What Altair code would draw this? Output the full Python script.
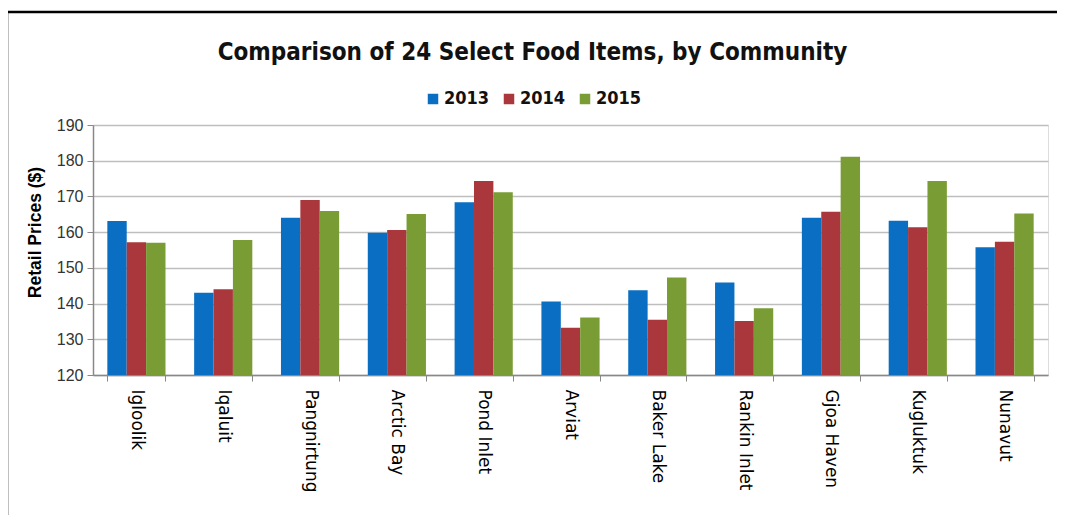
import altair as alt
import pandas as pd

communities = ["Igloolik", "Iqaluit", "Pangnirtung", "Arctic Bay", "Pond Inlet", "Arviat",
               "Baker Lake", "Rankin Inlet", "Gjoa Haven", "Kugluktuk", "Nunavut"]
years = ["2013", "2014", "2015"]
v2013 = [163.1, 143.0, 164.0, 159.8, 168.4, 140.6, 143.7, 145.9, 164.0, 163.2, 155.8]
v2014 = [157.2, 144.0, 169.0, 160.6, 174.3, 133.2, 135.5, 135.1, 165.7, 161.4, 157.3]
v2015 = [157.0, 157.8, 165.9, 165.1, 171.2, 136.1, 147.3, 138.7, 181.1, 174.3, 165.2]
y_ticks = [120, 130, 140, 150, 160, 170, 180, 190]
colors = ["#0A6FC2", "#A9373B", "#7A9C35"]

rows = []
for i, c in enumerate(communities):
    for y, vals in zip(years, [v2013, v2014, v2015]):
        rows.append({"Community": c, "Year": y, "Price": vals[i]})
df = pd.DataFrame(rows)

W, H = 955, 250
PL, PT = 85, 117
NARROW = "DejaVu Sans Condensed, Liberation Sans"

bars = alt.Chart(df).mark_bar(clip=True).encode(
    x=alt.X("Community:N", sort=communities, title=None,
            scale=alt.Scale(paddingInner=0.33, paddingOuter=0.165),
            axis=alt.Axis(labelAngle=90, labelAlign="left", labelBaseline="middle",
                          labelFont="DejaVu Sans", labelFontSize=17, labelColor="#000",
                          labelPadding=8, tickBand="extent", tickSize=6, tickColor="#888",
                          domainColor="#888", domainWidth=1.5, grid=False)),
    xOffset=alt.XOffset("Year:N", scale=alt.Scale(paddingInner=0, paddingOuter=0)),
    y=alt.Y("Price:Q", scale=alt.Scale(domain=[120, 190], nice=False, zero=False),
            title="Retail Prices ($)",
            axis=alt.Axis(values=y_ticks, labelFont="Liberation Sans", labelFontSize=16,
                          labelColor="#333", labelPadding=4, tickSize=6, tickColor="#888",
                          domainColor="#888", domainWidth=1.5, gridColor="#BEBEBE",
                          gridWidth=1.5, titleFont="Liberation Sans", titleFontSize=17.5,
                          titleFontWeight="bold", titleColor="#000", titlePadding=12,
                          titleY=107)),
    color=alt.Color("Year:N", scale=alt.Scale(domain=years, range=colors),
                    legend=alt.Legend(title=None, orient="none", direction="horizontal",
                                      legendX=331, legendY=-35, symbolType="square",
                                      symbolSize=110, symbolStrokeWidth=0,
                                      labelFont=NARROW, labelFontSize=18,
                                      labelFontWeight="bold", labelColor="#111",
                                      columnPadding=10, labelOffset=2)),
)

one = pd.DataFrame({"k": [0]})
frame_top = alt.Chart(one).mark_rule(color="#000", strokeWidth=2.5).encode(
    x=alt.value(7 - 8 - PL), x2=alt.value(1065 - 8 - PL), y=alt.value(12 - 8 - PT))
frame_left = alt.Chart(one).mark_rule(color="#000", strokeWidth=2.5).encode(
    x=alt.value(7 - 8 - PL), y=alt.value(12 - 8 - PT), y2=alt.value(521 - 8 - PT))
frame_bottom = alt.Chart(one).mark_rule(color="#9A9A9A", strokeWidth=3).encode(
    x=alt.value(8 - 8 - PL), x2=alt.value(1065 - 8 - PL), y=alt.value(522 - 8 - PT))

chart = alt.layer(bars, frame_top, frame_left, frame_bottom).properties(
    width=W, height=H,
    title=alt.TitleParams("Comparison of 24 Select Food Items, by Community",
                          font=NARROW, fontSize=24, fontWeight="bold",
                          color="#111", anchor="middle", frame="group", offset=-54,
                          dx=-38),
    autosize=alt.AutoSizeParams(type="none"),
    padding={"left": PL, "top": PT, "right": 1049 - PL - W, "bottom": 140},
).configure_view(stroke=None).configure(background="white")

chart.save("out.html", embed_options={"renderer": "svg", "actions": False})
